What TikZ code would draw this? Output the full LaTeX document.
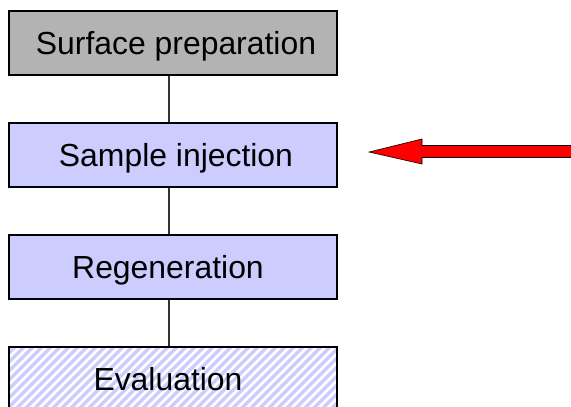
\documentclass[tikz,border=0pt]{standalone}
\usepackage{fontspec}
\setmainfont{Liberation Sans}
\definecolor{boxgray}{RGB}{179,179,179}
\definecolor{boxblue}{RGB}{204,204,255}
\begin{document}
\begin{tikzpicture}[x=1pt,y=-1pt,
  stage/.style={draw=black, line width=1.3pt, minimum width=328pt, minimum height=64pt,
    inner sep=0pt, text depth=0pt, font=\fontsize{31.9}{38}\selectfont},
  link/.style={draw=black!80, line width=1.3pt},
  stripe/.style={draw=boxblue, line width=3.4pt}]
\useasboundingbox (0,0) rectangle (571,407);
\clip (0,0) rectangle (571,407);

% hatched background of the last step
\begin{scope}
  \clip (9,347) rectangle (337,411);
  \foreach \s in {-90,-81,...,350}
    \draw[stripe] (\s,425) -- ++(90,-90);
\end{scope}

\node[stage, fill=boxgray] (prep) at (173,43) {\hspace{6pt}Surface preparation};
\node[stage, fill=boxblue] (inject) at (173,155) {\hspace{6pt}Sample injection};
\node[stage, fill=boxblue] (regen) at (173,267) {\hspace{-10pt}Regeneration};
\node[stage] (eval) at (173,379) {\hspace{-10pt}Evaluation};

\draw[link] (prep.south -| 169,0) -- (inject.north -| 169,0);
\draw[link] (inject.south -| 169,0) -- (regen.north -| 169,0);
\draw[link] (regen.south -| 169,0) -- (eval.north -| 169,0);

% incoming arrow pointing at the injection step
\coordinate (tip) at (369,152);
\fill[red, draw=black, line width=0.6pt]
  (tip) -- (422,139) -- (422,145.5) -- (575,145.5) -- (575,157.5) -- (422,157.5) -- (422,164) -- cycle;
\end{tikzpicture}
\end{document}
